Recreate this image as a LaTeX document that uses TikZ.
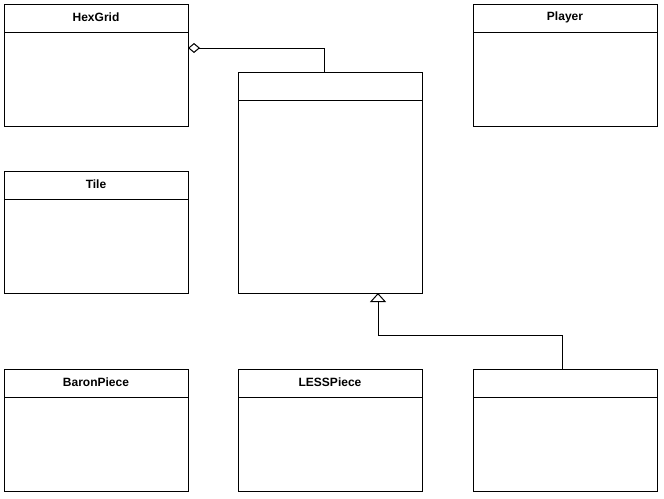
\documentclass[tikz,border=0pt]{standalone}
\usepackage{fontspec}
\setmainfont{Liberation Sans}
\usetikzlibrary{arrows.meta,calc}
\begin{document}
\begin{tikzpicture}[x=1pt,y=-1pt,
  umlbox/.style={draw=black,line width=1pt,fill=white,anchor=north west,minimum width=184pt,inner sep=0pt,outer sep=0pt},
  small/.style={umlbox,minimum height=122pt},
  tall/.style={umlbox,minimum height=221pt},
  ttl/.style={font=\fontsize{12}{14}\selectfont\bfseries,anchor=center},
  conn/.style={line width=1pt,draw=black}
]
\useasboundingbox[fill=white] (0,0) rectangle (664,498);
% boxes
\node[small] (hex) at (4,4) {};
\node[small] (player) at (473,4) {};
\node[small] (tile) at (4,171) {};
\node[tall] (mid) at (238,72) {};
\node[small] (baron) at (4,369) {};
\node[small] (less) at (238,369) {};
\node[small] (unn) at (473,369) {};
% header dividers
\foreach \b in {hex,player,tile,mid,baron,less,unn}
  \draw[line width=1pt] ($(\b.north west)+(0,28)$) -- ($(\b.north east)+(0,28)$);
% titles
\node[ttl] (thex) at ($(hex.north)+(0,13)$) {HexGrid};
\node[ttl] (tplayer) at ($(player.north)+(0,13)$) {Player};
\node[ttl] (ttile) at ($(tile.north)+(0,13)$) {Tile};
\node[ttl] (tbaron) at ($(baron.north)+(0,13)$) {BaronPiece};
\node[ttl] (tless) at ($(less.north)+(0,13)$) {LESSPiece};
% aggregation
\draw[conn,{Diamond[open,length=12pt,width=10pt,line width=1pt]}-] ($(hex.north east)+(0,44)$) -| ($(mid.north west)+(86,0)$);
% inheritance
\coordinate (ua) at ($(unn.north west)+(89,0)$);
\coordinate (mb) at ($(mid.south west)+(140,0)$);
\draw[conn,-{Triangle[open,length=9pt,width=16pt,line width=1pt]}] (ua) -- (ua |- 0,335) -| (mb);
\end{tikzpicture}
\end{document}
